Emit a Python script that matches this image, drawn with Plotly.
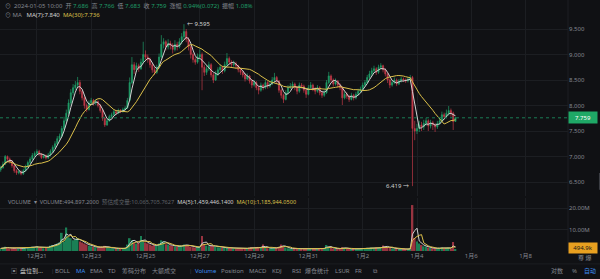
import pandas as pd
import plotly.graph_objects as go

# ---------------- data (2h candles) ----------------
start_time = "2023-12-19 16:00"
first_open = 6.74
close = [6.78,6.85,7.00,6.95,6.90,6.82,6.72,6.68,6.70,6.66,
 6.72,6.80,6.88,6.95,7.02,7.06,7.10,7.05,6.98,7.02,
 6.97,7.03,7.10,7.18,7.25,7.35,7.40,7.55,7.70,7.85,
 8.05,8.25,8.35,8.40,8.45,8.28,8.15,8.00,7.92,8.05,
 8.10,8.05,8.08,8.00,7.90,7.75,7.62,7.70,7.78,7.82,
 7.88,7.85,7.90,7.88,7.92,7.95,8.10,8.45,8.80,8.70,
 8.78,8.72,8.85,9.00,8.95,8.90,8.80,8.70,8.65,8.75,
 8.95,9.20,9.25,9.15,9.22,9.18,9.10,9.20,9.15,9.25,
 9.35,9.45,9.30,9.15,9.00,8.90,8.85,8.95,9.00,8.75,
 8.65,8.72,8.80,8.60,8.50,8.62,8.70,8.75,8.68,8.80,
 8.92,8.85,8.80,8.82,8.78,8.70,8.65,8.60,8.52,8.58,
 8.48,8.40,8.45,8.35,8.30,8.40,8.35,8.45,8.38,8.42,
 8.50,8.55,8.48,8.30,8.20,8.12,8.25,8.35,8.38,8.42,
 8.35,8.28,8.40,8.38,8.30,8.22,8.35,8.40,8.32,8.28,
 8.35,8.25,8.20,8.25,8.45,8.58,8.50,8.42,8.48,8.40,
 8.35,8.15,8.22,8.18,8.12,8.20,8.15,8.22,8.28,8.32,
 8.40,8.45,8.55,8.62,8.68,8.72,8.65,8.75,8.78,8.70,
 8.62,8.50,8.40,8.45,8.50,8.42,8.48,8.52,8.50,8.48,
 8.52,8.55,7.55,7.50,7.55,7.62,7.58,7.65,7.70,7.60,
 7.66,7.62,7.58,7.65,7.70,7.82,7.78,7.85,7.90,7.85,
 7.686,7.759]
high = [6.82,6.90,7.03,7.02,6.98,6.93,6.85,6.75,6.74,6.73,
 6.76,6.84,6.92,6.99,7.07,7.10,7.14,7.13,7.07,7.05,
 7.04,7.07,7.14,7.22,7.30,7.40,7.45,7.60,7.78,7.92,
 8.12,8.32,8.42,8.48,8.56,8.50,8.32,8.18,8.04,8.10,
 8.15,8.13,8.12,8.10,8.03,7.93,7.78,7.74,7.82,7.86,
 7.92,7.91,7.94,7.93,7.96,7.99,8.15,8.55,8.95,8.85,
 8.84,8.82,8.92,9.25,9.08,9.00,8.94,8.84,8.76,8.80,
 9.02,9.38,9.32,9.28,9.30,9.27,9.22,9.28,9.25,9.32,
 9.42,9.595,9.50,9.34,9.18,9.04,8.95,9.02,9.10,9.04,
 8.80,8.78,8.86,8.83,8.64,8.68,8.75,8.80,8.78,8.86,
 9.03,8.96,8.89,8.88,8.86,8.80,8.74,8.69,8.63,8.63,
 8.60,8.52,8.50,8.48,8.39,8.45,8.43,8.50,8.48,8.47,
 8.56,8.64,8.58,8.50,8.33,8.23,8.30,8.40,8.44,8.47,
 8.45,8.38,8.45,8.44,8.41,8.33,8.40,8.46,8.43,8.36,
 8.40,8.38,8.29,8.30,8.50,8.66,8.61,8.53,8.53,8.50,
 8.43,8.38,8.27,8.26,8.21,8.25,8.23,8.27,8.33,8.37,
 8.45,8.50,8.60,8.68,8.74,8.78,8.75,8.80,8.83,8.80,
 8.73,8.65,8.53,8.50,8.55,8.53,8.52,8.56,8.55,8.53,
 8.56,8.60,8.58,7.70,7.64,7.70,7.68,7.72,7.76,7.73,
 7.72,7.70,7.66,7.70,7.76,7.88,7.86,7.92,7.99,7.94,
 7.88,7.766]
low = [6.70,6.76,6.83,6.90,6.86,6.78,6.68,6.64,6.65,6.63,
 6.64,6.70,6.78,6.85,6.93,6.99,7.03,7.01,6.95,6.96,
 6.94,6.95,7.00,7.07,7.15,7.22,7.30,7.38,7.52,7.66,
 7.82,8.00,8.20,8.30,8.36,8.22,8.10,7.94,7.87,7.90,
 8.02,8.00,8.01,7.96,7.86,7.70,7.58,7.60,7.68,7.75,
 7.80,7.82,7.83,7.85,7.86,7.90,7.93,8.08,8.42,8.62,
 8.66,8.66,8.70,8.82,8.90,8.84,8.74,8.64,8.60,8.62,
 8.72,8.92,9.12,9.08,9.10,9.10,9.02,9.06,9.08,9.12,
 9.20,9.30,9.24,9.08,8.92,8.84,8.80,8.82,8.90,8.30,
 8.58,8.60,8.68,8.55,8.44,8.48,8.58,8.66,8.62,8.65,
 8.77,8.80,8.75,8.76,8.72,8.65,8.60,8.55,8.47,8.50,
 8.43,8.34,8.37,8.30,8.22,8.27,8.30,8.32,8.33,8.35,
 8.40,8.46,8.43,8.25,8.14,8.05,8.10,8.22,8.32,8.35,
 8.30,8.22,8.25,8.33,8.25,8.15,8.20,8.32,8.28,8.22,
 8.25,8.20,8.15,8.17,8.23,8.42,8.45,8.37,8.39,8.35,
 8.30,8.01,8.12,8.13,8.07,8.10,8.10,8.12,8.19,8.25,
 8.29,8.37,8.42,8.52,8.58,8.64,8.60,8.62,8.70,8.65,
 8.57,8.44,8.34,8.37,8.42,8.38,8.40,8.45,8.46,8.44,
 8.45,8.49,6.419,7.32,7.44,7.48,7.50,7.52,7.60,7.50,
 7.55,7.52,7.48,7.54,7.62,7.67,7.72,7.75,7.80,7.78,
 7.52,7.683]
volume_m = [1.2,1.5,2.0,1.4,1.1,1.3,1.6,1.2,1.0,1.3,
 1.5,1.4,1.8,1.6,2.0,1.7,2.2,1.5,1.6,1.3,
 1.8,2.0,2.5,2.8,3.0,3.5,4.0,8.5,4.5,11.0,
 6.5,6.0,5.0,5.5,6.0,4.5,4.0,3.5,3.0,2.5,
 2.2,2.0,1.8,1.6,1.8,2.0,2.4,1.8,1.5,1.3,
 1.2,1.1,1.3,1.0,1.2,1.5,3.0,6.0,5.0,4.0,
 3.5,3.8,7.0,4.5,4.0,3.5,3.0,2.5,2.8,2.5,
 3.5,5.0,4.5,3.2,3.0,2.6,2.4,2.2,2.0,2.3,
 2.6,3.0,2.8,2.4,2.0,1.8,1.6,1.8,2.0,7.0,
 3.0,2.5,2.2,2.4,2.6,2.0,1.8,1.6,1.5,1.4,
 1.6,1.5,1.3,1.2,1.1,1.3,1.2,1.0,1.4,1.2,
 1.5,1.8,1.3,1.6,1.9,1.5,3.0,1.6,1.3,1.2,
 1.4,1.6,1.5,2.0,3.0,2.2,1.6,1.3,1.1,1.0,
 1.2,1.1,1.0,0.9,1.1,1.3,1.0,0.9,1.0,1.1,
 1.0,1.2,1.3,1.1,2.8,2.0,1.4,1.2,1.0,1.1,
 1.2,1.8,1.3,1.1,1.0,0.9,1.0,1.1,1.2,1.0,
 1.1,1.3,1.5,1.4,1.6,1.3,1.5,1.4,1.6,2.6,
 2.0,1.8,1.5,1.2,1.0,1.1,0.9,1.0,0.8,0.9,
 1.0,1.1,21.5,6.0,4.5,3.5,2.8,2.2,2.0,1.6,
 1.4,1.3,1.2,1.1,1.5,1.6,1.2,1.4,1.6,1.2,
 4.2,0.49]

price_ticks = [6.5, 7.0, 7.5, 8.0, 8.5, 9.0, 9.5]
vol_ticks = [10, 20]
vol_tick_text = ["10.00M", "20.00M"]
date_ticks = ["2023-12-21", "2023-12-23", "2023-12-25", "2023-12-27", "2023-12-29",
              "2023-12-31", "2024-01-02", "2024-01-04", "2024-01-06", "2024-01-08"]
date_tick_text = ["12月21", "12月23", "12月25", "12月27", "12月29",
                  "12月31", "1月2", "1月4", "1月6", "1月8"]
last_price = 7.759
high_mark = 9.595
low_mark = 6.419

n = len(close)
assert len(high) == n and len(low) == n and len(volume_m) == n, (len(high), len(low), len(volume_m), n)
times = pd.date_range(start_time, periods=n, freq="2h")
opens = [first_open] + close[:-1]

cs = pd.Series(close)
ma_fast = cs.rolling(4, min_periods=1).mean()    # ~7 hours
ma_slow = cs.rolling(15, min_periods=1).mean()   # ~30 hours
vs = pd.Series(volume_m)
vma_fast = vs.rolling(3, min_periods=1).mean()
vma_slow = vs.rolling(5, min_periods=1).mean()

BG = "#101114"
GRID = "#1c1e22"
TXT = "#858890"
GREEN = "#1f9c67"
RED = "#c03a48"
VGREEN = "#1a7f55"
VRED = "#983440"
WHITE_L = "#d2d2d2"
YELLOW = "#dcc04a"
BLUE = "#3d8ef0"
FONT = "Noto Sans, Noto Sans CJK SC, sans-serif"

fig = go.Figure()
fig.add_trace(go.Candlestick(
    x=times, open=opens, high=high, low=low, close=close,
    increasing=dict(line=dict(color=GREEN, width=0.7), fillcolor=GREEN),
    decreasing=dict(line=dict(color=RED, width=0.7), fillcolor=RED),
    whiskerwidth=0, showlegend=False, hoverinfo="skip", xaxis="x", yaxis="y"))
fig.add_trace(go.Scatter(x=times, y=ma_fast, mode="lines", line=dict(color=WHITE_L, width=1),
                         showlegend=False, hoverinfo="skip", xaxis="x", yaxis="y"))
fig.add_trace(go.Scatter(x=times, y=ma_slow, mode="lines", line=dict(color=YELLOW, width=1),
                         showlegend=False, hoverinfo="skip", xaxis="x", yaxis="y"))

vcolors = [VGREEN if c >= o else VRED for c, o in zip(close, opens)]
fig.add_trace(go.Bar(x=times, y=volume_m, marker=dict(color=vcolors, line=dict(width=0)),
                     showlegend=False, hoverinfo="skip", xaxis="x2", yaxis="y2"))
fig.add_trace(go.Scatter(x=times, y=vma_fast, mode="lines", line=dict(color=WHITE_L, width=1),
                         showlegend=False, hoverinfo="skip", xaxis="x2", yaxis="y2"))
fig.add_trace(go.Scatter(x=times, y=vma_slow, mode="lines", line=dict(color=YELLOW, width=1),
                         showlegend=False, hoverinfo="skip", xaxis="x2", yaxis="y2"))

x_range = ["2023-12-19 15:23", "2024-01-09 13:29"]

fig.update_layout(
    width=600, height=279,
    margin=dict(l=0, r=32, t=0, b=0),
    paper_bgcolor=BG, plot_bgcolor=BG,
    font=dict(family=FONT, size=6, color=TXT),
    bargap=0.25,
    xaxis=dict(domain=[0, 1], range=x_range, anchor="y", showticklabels=False,
               tickvals=date_ticks, showgrid=True, gridcolor=GRID, gridwidth=1,
               zeroline=False, showline=False, rangeslider=dict(visible=False), fixedrange=True),
    yaxis=dict(domain=[0.2975, 1], range=[6.2255, 10.069], side="right",
               tickvals=price_ticks, ticktext=[f"{v:.3f}" for v in price_ticks],
               tickfont=dict(size=6, color=TXT), showgrid=True, gridcolor=GRID,
               zeroline=False, ticks="", showline=False),
    xaxis2=dict(domain=[0, 1], range=x_range, anchor="y2", matches="x",
                tickvals=date_ticks, ticktext=date_tick_text, tickfont=dict(size=6, color=TXT),
                showgrid=True, gridcolor=GRID, zeroline=False, ticks="", showline=False,
                rangeslider=dict(visible=False)),
    yaxis2=dict(domain=[0.1004, 0.2903], range=[0, 24.8], side="right",
                tickvals=vol_ticks, ticktext=vol_tick_text, tickfont=dict(size=6, color=TXT),
                showgrid=True, gridcolor=GRID, zeroline=False, ticks="", showline=False),
)

shapes = [
    dict(type="line", xref="paper", yref="y", x0=0, x1=1, y0=last_price, y1=last_price,
         line=dict(color="#1b7d55", width=1, dash="3px,3px")),
    dict(type="line", xref="paper", yref="paper", x0=1, x1=1, y0=0.1004, y1=1,
         line=dict(color=GRID, width=1)),
    dict(type="line", xref="paper", yref="paper", x0=-0.01, x1=1.06, y0=0.054, y1=0.054,
         line=dict(color=GRID, width=1)),
    dict(type="rect", xref="paper", yref="paper", x0=1.0545, x1=1.06, y0=0.32, y1=0.38,
         fillcolor="#3a3c42", line=dict(width=0)),
]
fig.update_layout(shapes=shapes)

g = lambda s: f"<span style='color:{GREEN}'>{s}</span>"
line1 = ("⊙  2024-01-05 10:00  开 " + g("7.686") + "  高 " + g("7.766") + "  低 " + g("7.683") +
         "  收 " + g("7.759") + "  涨幅 " + g("0.94%(0.072)") + "  振幅 " + g("1.08%"))
line2 = ("⊙ MA   " + f"<span style='color:{WHITE_L}'>MA(7):7.840</span>" + "  " +
         f"<span style='color:{YELLOW}'>MA(30):7.736</span>")
vline = ("VOLUME  ▾  VOLUME:494,897.2000  " + "<span style='color:#5f6268'>预估成交量:10,065,705.7627</span>  " +
         f"<span style='color:{WHITE_L}'>MA(5):1,459,446.1400</span>  " +
         f"<span style='color:{YELLOW}'>MA(10):1,185,944.0500</span>")

ann = [
    dict(xref="paper", yref="paper", x=0.005, y=0.978, text=line1, showarrow=False,
         xanchor="left", yanchor="middle", font=dict(size=6, color=TXT)),
    dict(xref="paper", yref="paper", x=0.005, y=0.946, text=line2, showarrow=False,
         xanchor="left", yanchor="middle", font=dict(size=6, color=TXT)),
    dict(xref="paper", yref="paper", x=0.01, y=0.276, text=vline, showarrow=False,
         xanchor="left", yanchor="middle", font=dict(size=5.6, color=TXT)),
    dict(xref="x", yref="y", x=times[close.index(9.45)], y=high_mark, text="← 9.595",
         showarrow=False, xanchor="left", yanchor="middle", xshift=1,
         font=dict(size=6, color=WHITE_L)),
    dict(xref="x", yref="y", x=times[low.index(low_mark)], y=low_mark, text="6.419 →",
         showarrow=False, xanchor="right", yanchor="middle", xshift=-1,
         font=dict(size=6, color=WHITE_L)),
    dict(xref="paper", yref="y", x=1, y=last_price, text="7.759", showarrow=False,
         xanchor="left", yanchor="middle", bgcolor="#1fa866", width=26, height=9,
         font=dict(size=6, color="#ffffff")),
    dict(xref="paper", yref="y2", x=1, y=1.3, text="494.9k", showarrow=False,
         xanchor="left", yanchor="middle", bgcolor="#e8a020", width=26, height=8,
         font=dict(size=6, color="#1a1a1a")),
    dict(xref="paper", yref="paper", x=594 / 568, y=0.075, text="尊 爆", showarrow=False,
         xanchor="right", yanchor="middle", font=dict(size=6, color=TXT)),
]

# bottom toolbar
tb_y = 0.029
toolbar = [
    (0.015, "▣", TXT), (0.03, "盘位到...", "#c8c8c8"), (0.082, "|", "#3a3c42"),
    (0.088, "BOLL", TXT), (0.123, "MA", BLUE), (0.147, "EMA", TXT), (0.177, "TD", TXT),
    (0.2, "筹码分布", TXT), (0.25, "大额成交", TXT), (0.312, "|", "#3a3c42"),
    (0.322, "Volume", BLUE), (0.365, "Position", TXT), (0.412, "MACD", TXT),
    (0.45, "KDJ", TXT), (0.483, "RSI", TXT), (0.505, "爆仓统计", TXT), (0.555, "LSUR", TXT),
    (0.588, "FR", TXT), (0.618, "⧉", TXT),
]
for xp, t, col in toolbar:
    ann.append(dict(xref="paper", yref="paper", x=xp / (568 / 600), y=tb_y, text=t,
                    showarrow=False, xanchor="left", yanchor="middle",
                    font=dict(size=6, color=col)))
for xp, t, col in [(549, "对数", TXT), (570, "%", TXT), (582, "自动", BLUE)]:
    ann.append(dict(xref="paper", yref="paper", x=xp / 568, y=tb_y, text=t,
                    showarrow=False, xanchor="left", yanchor="middle",
                    font=dict(size=6, color=col)))
fig.update_layout(annotations=ann)

fig.write_html("out.html")
